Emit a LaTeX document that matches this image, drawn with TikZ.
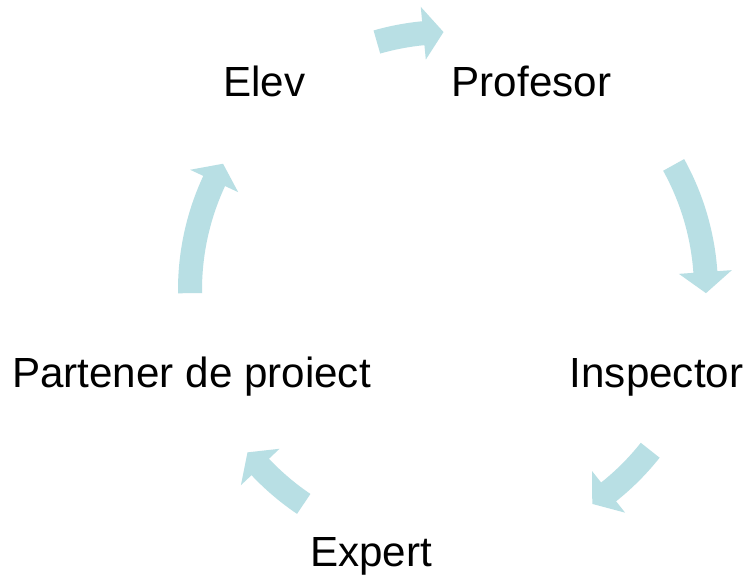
\documentclass[tikz,border=0pt]{standalone}
\usepackage{fontspec}
\setmainfont{Liberation Sans}
\definecolor{cyclefill}{RGB}{184,223,228}
\tikzset{
  lbl/.style={font=\fontsize{24}{29}\selectfont, anchor=base, inner sep=0pt},
  cyclearrow/.style={fill=cyclefill, draw=none}
}
\begin{document}
\begin{tikzpicture}[x=0.02cm,y=-0.02cm]
\useasboundingbox (0,0) rectangle (744,576);
\fill[white] (0,0) rectangle (744,576);
% block arrows round the cycle: tail / head base / tip angles
\foreach \a/\b/\t in {-106/-95.5/-91, -29/-4/0.7, 38.4/51.5/56, 124/136.7/141, 179.3/205/209.3}{
\fill[cyclearrow, shift={(448,290)}] (\a:246) arc[start angle=\a, end angle=\b, radius=246]
  -- (\b:231.5) -- (\t:258) -- (\b:284.5) -- (\b:270)
  arc[start angle=\b, end angle=\a, radius=270] -- cycle;
}
\node[lbl] (elev) at (264.5,96) {Elev};
\node[lbl] (profesor) at (531.5,96) {Profesor};
\node[lbl] (inspector) at (656.5,387.7) {Inspector};
\node[lbl] (expert) at (371,566.7) {Expert};
\node[lbl] (partener) at (191.5,387.7) {Partener de proiect};
\end{tikzpicture}
\end{document}
